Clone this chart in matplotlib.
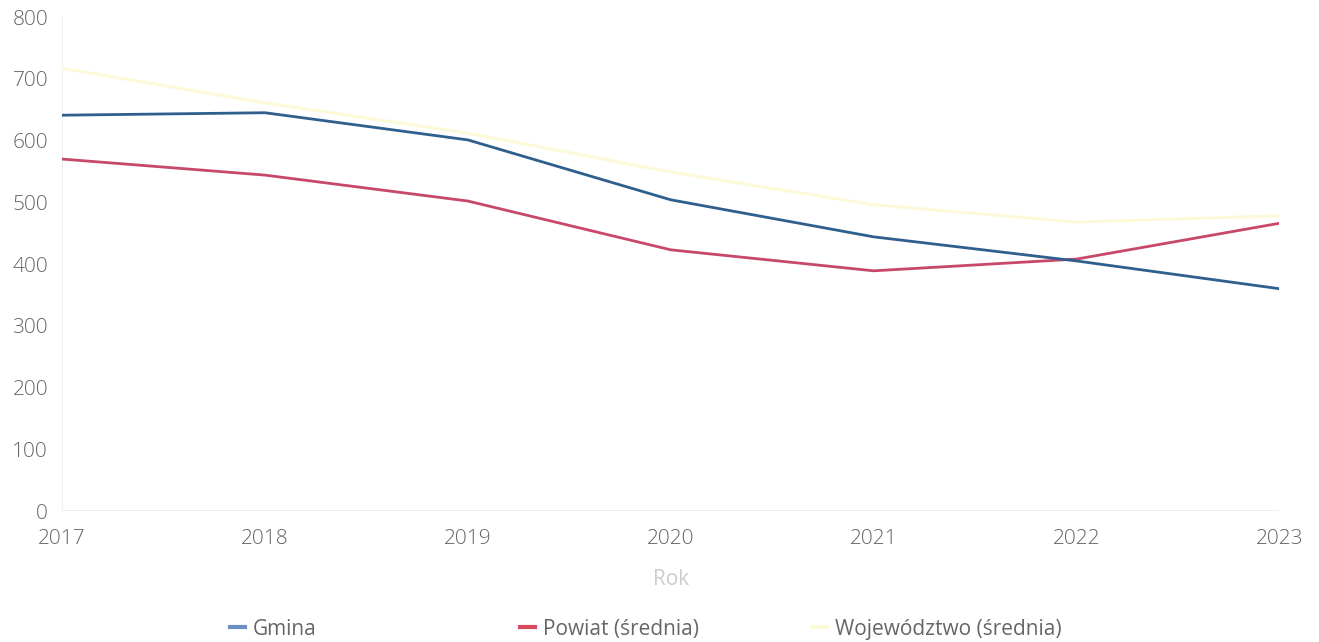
import numpy as np
import pandas as pd
import matplotlib
matplotlib.use('Agg')
import matplotlib.pyplot as plt

plt.rcParams['font.family'] = ['Open Sans', 'DejaVu Sans']

years = [2017, 2018, 2019, 2020, 2021, 2022, 2023]
gmina = [641, 645, 601, 504, 444, 405, 360]
powiat = [570, 544, 502, 423, 389, 408, 466]
wojewodztwo = [717, 661, 612, 549, 496, 468, 478]

labels = ['Gmina', 'Powiat (średnia)', 'Województwo (średnia)']
colors = ['#2f5f8c', '#c8486a', '#fcf9d8']
legend_colors = ['#6a8fc0', '#d9485f', '#fcf9d8']

fig = plt.figure(figsize=(13.19, 6.42), dpi=100)
ax = fig.add_axes([0.047, 0.204, 0.923, 0.7695])

ax.plot(years, wojewodztwo, color=colors[2], lw=2.2, zorder=1)
ax.plot(years, gmina, color=colors[0], lw=2, zorder=3)
ax.plot(years, powiat, color=colors[1], lw=2, zorder=2)

ax.set_xlim(2017, 2023)
ax.set_ylim(0, 800)
ax.set_yticks(range(0, 801, 100))
ax.set_xticks(years)
for s in ax.spines.values():
    s.set_visible(False)
ax.axvline(2017, color='#f0f0f0', lw=1.5, zorder=0)
ax.axhline(0, color='#eeeeee', lw=1.5, zorder=0)
ax.tick_params(length=0, labelsize=15, labelcolor='#666666')
ax.tick_params(axis='y', pad=10)
ax.tick_params(axis='x', pad=13)
for t in ax.get_xticklabels() + ax.get_yticklabels():
    t.set_fontweight('light')
ax.set_xlabel('Rok', fontsize=15, color='#cccccc', labelpad=14)

# legend entries sit in fixed slots
slots = [0.1744, 0.394, 0.6156]
for lab, c, x in zip(labels, legend_colors, slots):
    h = plt.Line2D([], [], color=c, lw=3)
    fig.legend([h], [lab], loc='center left', bbox_to_anchor=(x, 0.02),
               frameon=False, fontsize=15, handlelength=0.72, handletextpad=0.38,
               borderpad=0, borderaxespad=0, labelcolor='#666666')

fig.savefig('out.png', dpi=100)
